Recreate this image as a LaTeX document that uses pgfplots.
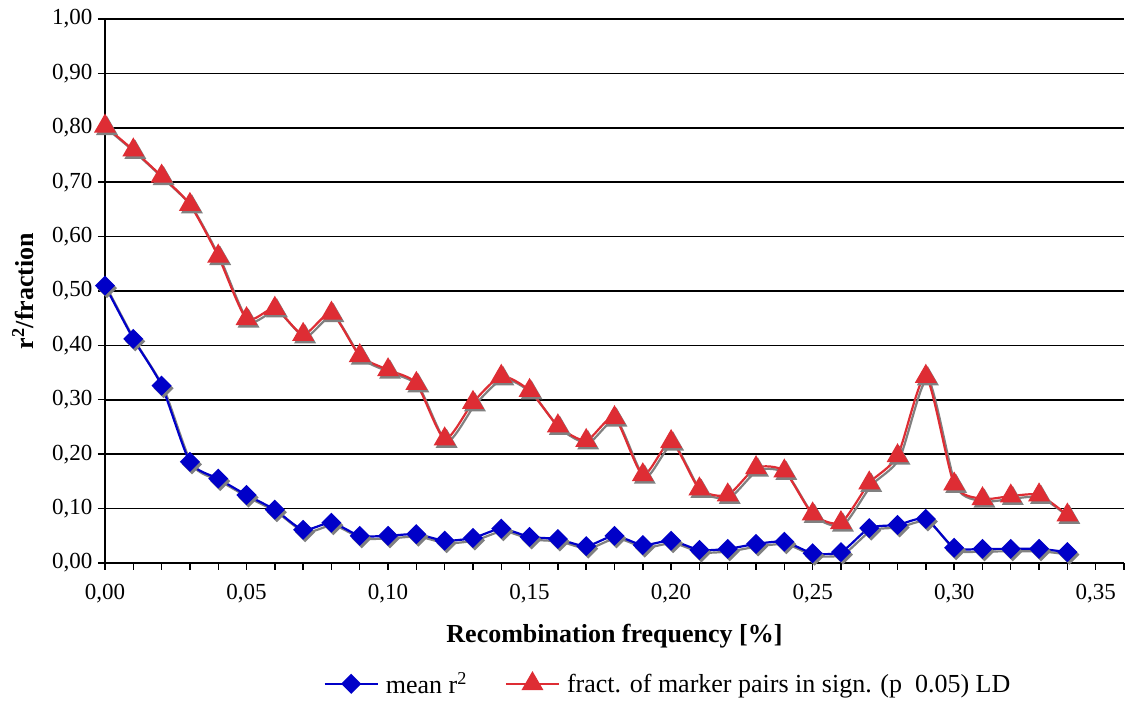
\documentclass[border=0pt]{standalone}
\usepackage{pgfplots}
\pgfplotsset{compat=1.18}
\usepackage{fontspec}
\setmainfont{Liberation Serif}
\definecolor{myblue}{RGB}{0,0,200}
\definecolor{myred}{RGB}{222,45,52}
\definecolor{shad}{RGB}{128,128,128}
\pgfplotstableread{
x blue red
0.00 0.510 0.803
0.01 0.412 0.759
0.02 0.326 0.711
0.03 0.186 0.659
0.04 0.155 0.564
0.05 0.125 0.449
0.06 0.098 0.468
0.07 0.061 0.420
0.08 0.074 0.459
0.09 0.050 0.381
0.10 0.050 0.355
0.11 0.053 0.330
0.12 0.041 0.228
0.13 0.046 0.295
0.14 0.063 0.343
0.15 0.048 0.317
0.16 0.044 0.252
0.17 0.031 0.225
0.18 0.050 0.267
0.19 0.033 0.162
0.20 0.041 0.223
0.21 0.024 0.136
0.22 0.026 0.125
0.23 0.035 0.175
0.24 0.039 0.169
0.25 0.018 0.090
0.26 0.020 0.074
0.27 0.064 0.147
0.28 0.070 0.197
0.29 0.081 0.343
0.30 0.028 0.145
0.31 0.026 0.118
0.32 0.026 0.123
0.33 0.026 0.125
0.34 0.020 0.088
}\datatable
\begin{document}
\begin{tikzpicture}
\useasboundingbox (0,0) rectangle (1128pt,701pt);
\begin{axis}[
  at={(105pt,138pt)}, anchor=south west,
  scale only axis, width=1019pt, height=544pt,
  xmin=0, xmax=0.36, ymin=0, ymax=1,
  axis lines=left,
  axis line style={-, line width=1.6pt, black},
  xtick={0,0.05,...,0.351},
  minor xtick={0,0.01,...,0.361},
  ytick={0,0.1,...,1.01},
  tick align=outside,
  major tick length=7pt, minor tick length=7pt,
  tick style={line width=1.4pt, black},
  ymajorgrids,
  major grid style={line width=1.6pt, black},
  /pgf/number format/.cd, fixed, fixed zerofill, precision=2, use comma, assume math mode=true,
  /pgfplots/.cd,
  ticklabel style={font=\fontsize{23}{25}\selectfont},
  xticklabel style={yshift=-11pt},
  yticklabel style={xshift=-2pt},
  xlabel={\textbf{Recombination frequency [\%]}},
  ylabel={\textbf{r\textsuperscript{2}/fraction}},
  label style={font=\fontsize{26}{28}\selectfont},
  xlabel style={yshift=-14pt},
  ylabel style={yshift=12pt},
  legend style={draw=none, fill=none, at={(0.5525,-0.222)}, anchor=center,
    font=\fontsize{26}{28}\selectfont, legend columns=2,
    /tikz/every odd column/.append style={column sep=5pt},
    /tikz/every even column/.append style={column sep=36pt}},
  legend image code/.code={
    \draw[#1, mark repeat=2, mark phase=2] plot coordinates {(0pt,0pt) (26.5pt,0pt) (53pt,0pt)};},
  clip=false,
]
% shadows
\addplot[shad, line width=2.2pt, smooth, tension=0.4, mark=square*, mark size=6pt,
  mark options={rotate=45, fill=shad, draw=shad}, xshift=2pt, yshift=-2.5pt, forget plot]
  table[x=x, y=blue] {\datatable};
\addplot[shad, line width=2.2pt, smooth, tension=0.4, mark=triangle*, mark size=10.5pt,
  mark options={fill=shad, draw=shad}, xshift=2pt, yshift=-2.5pt, forget plot]
  table[x=x, y=red] {\datatable};
\addplot[myblue, line width=2.2pt, smooth, tension=0.4, mark=square*, mark size=6pt,
  mark options={rotate=45, fill=myblue, draw=myblue}]
  table[x=x, y=blue] {\datatable};
\addlegendentry{mean r\textsuperscript{2}}
\addplot[myred, line width=2.2pt, smooth, tension=0.4, mark=triangle*, mark size=10.5pt,
  mark options={fill=myred, draw=myred}]
  table[x=x, y=red] {\datatable};
\addlegendentry{fract. of marker pairs in sign. (p\ \ 0.05) LD}
\end{axis}
\end{tikzpicture}
\end{document}
